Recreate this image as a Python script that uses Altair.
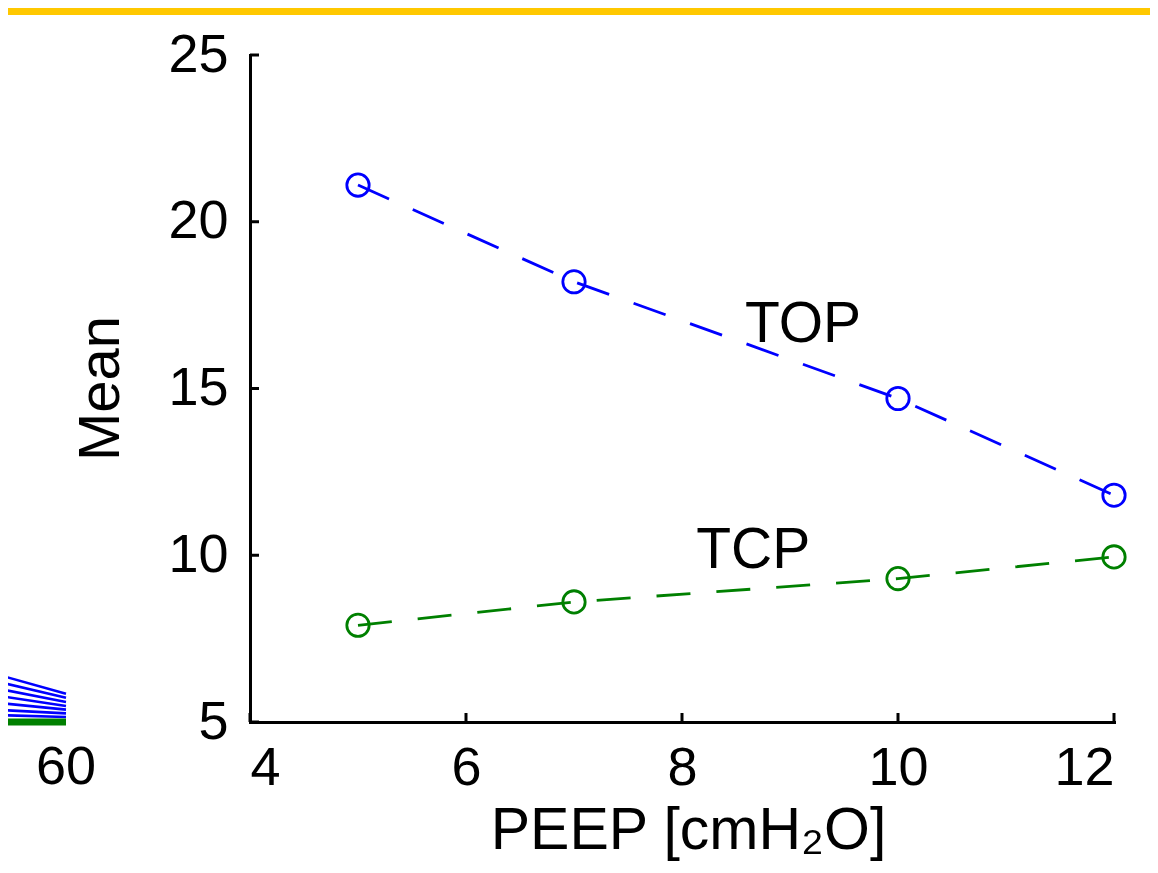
import altair as alt
import pandas as pd

# ---- data ----
peep = [5, 7, 10, 12]
top_mean = [21.1, 18.2, 14.7, 11.8]
tcp_mean = [7.9, 8.6, 9.3, 9.95]
series_names = ["TOP", "TCP"]
series_colors = ["#0000FF", "#008000"]

x_ticks = [4, 6, 8, 10, 12]
y_ticks = [5, 10, 15, 20, 25]

label_text = ["TOP", "TCP"]
label_x = [9.12, 8.66]
label_y = [16.9, 10.13]

# fragment of the neighbouring panel visible at the left edge
frag_x = [58.7, 60]
frag_blue_start = [6.35, 6.15, 5.95, 5.75, 5.55, 5.35, 5.2]
frag_blue_end = [5.85, 5.73, 5.6, 5.48, 5.37, 5.26, 5.15]
frag_green = [5.0, 5.0]
frag_tick = [60]

W, H = 864, 667
FONT = "Liberation Sans"

main_df = pd.DataFrame(
    {"x": peep * 2, "y": top_mean + tcp_mean,
     "s": [series_names[0]] * 4 + [series_names[1]] * 4}
)
lab_df = pd.DataFrame({"x": label_x, "y": label_y, "t": label_text})
xt_df = pd.DataFrame({"x": x_ticks})
yt_df = pd.DataFrame({"y": y_ticks})

xscale = alt.Scale(domain=[4, 12], nice=False, zero=False)
yscale = alt.Scale(domain=[5, 25], nice=False, zero=False)
cscale = alt.Scale(domain=series_names, range=series_colors)

xaxis = alt.Axis(
    values=x_ticks, tickSize=0, labelPadding=19, grid=False,
    title="PEEP [cmH₂O]", titleX=438, titleY=126, titleBaseline="alphabetic",
    titleAnchor="start", titleAlign="center", titleFontSize=59,
)
yaxis = alt.Axis(
    values=y_ticks, tickSize=0, labelPadding=22, grid=False,
    title="Mean", titleX=-132, titleY=333, titleAngle=270,
    titleBaseline="alphabetic", titleAlign="center", titleFontSize=58,
)

X = alt.X("x:Q", scale=xscale, axis=xaxis)
Y = alt.Y("y:Q", scale=yscale, axis=yaxis)

lines = alt.Chart(main_df).mark_line(strokeWidth=2.8, strokeDash=[34, 26]).encode(
    x=X, y=Y, color=alt.Color("s:N", scale=cscale, legend=None), detail="s:N"
)
points = alt.Chart(main_df).mark_point(shape="circle", filled=False, size=500, strokeWidth=2.8, opacity=1).encode(
    x=X, y=Y, color=alt.Color("s:N", scale=cscale, legend=None)
)
labels = alt.Chart(lab_df).mark_text(font=FONT, fontSize=57, color="black", align="center", baseline="middle").encode(
    x=X, y=Y, text="t:N"
)
xticks = alt.Chart(xt_df).mark_rule(color="black", strokeWidth=3).encode(
    x=X, y=alt.value(H), y2=alt.value(H - 9)
)
yticks = alt.Chart(yt_df).mark_rule(color="black", strokeWidth=3).encode(
    y=Y, x=alt.value(0), x2=alt.value(9)
)
banner = alt.Chart(pd.DataFrame({"a": [0]})).mark_rect(color="#FFC800").encode(
    x=alt.value(-242), x2=alt.value(W + 40), y=alt.value(-47), y2=alt.value(-40)
)

main = alt.layer(banner, lines, points, labels, xticks, yticks)

# fragment layer with its own x scale (60 sits left of this panel)
px_per_unit = 46.0
d0 = 60 + 184 / px_per_unit
fscale = alt.Scale(domain=[d0, d0 + W / px_per_unit], nice=False, zero=False)
FX = alt.X("x:Q", scale=fscale, axis=None)

frag_rows = []
for i, (a, b) in enumerate(zip(frag_blue_start, frag_blue_end)):
    frag_rows.append({"x": frag_x[0], "y": a, "g": f"b{i}"})
    frag_rows.append({"x": frag_x[1], "y": b, "g": f"b{i}"})
frag_df = pd.DataFrame(frag_rows)
green_df = pd.DataFrame({"x": frag_x, "y": frag_green})
ftick_df = pd.DataFrame({"x": frag_tick, "t": [str(v) for v in frag_tick]})

frag_blue = alt.Chart(frag_df).mark_line(color="#0000FF", strokeWidth=2.6).encode(
    x=FX, y=Y, detail="g:N"
)
frag_gr = alt.Chart(green_df).mark_line(color="#008000", strokeWidth=7).encode(x=FX, y=Y)
frag_lab = alt.Chart(ftick_df).mark_text(font=FONT, fontSize=54, color="black", align="center", baseline="top").encode(
    x=FX, y=alt.value(H + 19), text="t:N"
)
frag = alt.layer(frag_blue, frag_gr, frag_lab)

chart = alt.layer(main, frag).resolve_scale(x="independent").properties(
    width=W, height=H,
    autosize=alt.AutoSizeParams(type="none"),
    padding={"left": 242, "top": 47, "right": 36, "bottom": 140},
).configure_view(stroke=None).configure_axis(
    domainColor="black", domainWidth=3, domainCap="square",
    labelFont=FONT, labelFontSize=54, labelColor="black",
    titleFont=FONT, titleColor="black", titleFontWeight="normal",
)

chart.save("out.html", embed_options={"renderer": "svg", "actions": False})
